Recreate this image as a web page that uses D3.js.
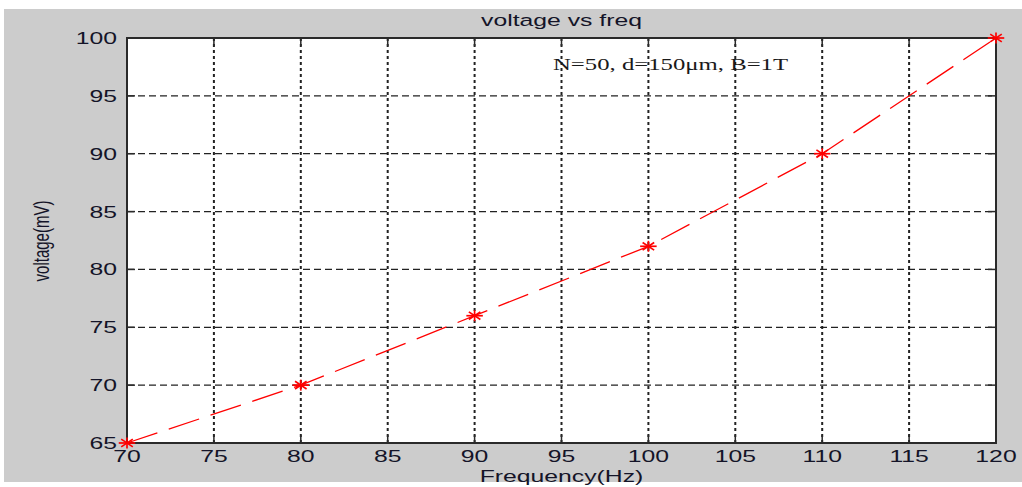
<!DOCTYPE html>
<html><head><meta charset="utf-8">
<script src="https://cdn.jsdelivr.net/npm/d3@7"></script>
<style>html,body{margin:0;padding:0;background:#fff;}svg{display:block;}</style>
</head><body>
<script>
const freq = [70, 80, 90, 100, 110, 120];
const voltage = [65, 70, 76, 82, 90, 100];
const xTicks = [70, 75, 80, 85, 90, 95, 100, 105, 110, 115, 120];
const yTicks = [65, 70, 75, 80, 85, 90, 95, 100];
const titleText = "voltage vs freq";
const xLabel = "Frequency(Hz)";
const yLabel = "voltage(mV)";
const noteText = "N=50, d=150\u03bcm, B=1T";

const W = 1022, H = 487, SX = 1.5;
const m = {left: 127, right: 996, top: 38, bottom: 443};
const svg = d3.select("body").append("svg").attr("width", W).attr("height", H);
svg.append("rect").attr("x", 4).attr("y", 9).attr("width", W - 4).attr("height", 473).attr("fill", "#cccccc");

const x = d3.scaleLinear().domain([70, 120]).range([m.left, m.right]);
const y = d3.scaleLinear().domain([65, 100]).range([m.bottom, m.top]);

svg.append("rect").attr("x", m.left).attr("y", m.top).attr("width", m.right - m.left)
  .attr("height", m.bottom - m.top).attr("fill", "#fff");

function stext(px, py, txt, o) {
  return svg.append("text")
    .attr("transform", `translate(${px},${py}) scale(${SX},1)` + (o.rot ? " rotate(-90)" : ""))
    .attr("text-anchor", o.anchor || "middle")
    .attr("font-family", o.family || "'Liberation Sans', Arial, sans-serif")
    .attr("font-size", o.size || 16)
    .attr("fill", o.fill || "#141428")
    .text(txt);
}

// grid
const grid = svg.append("g");
grid.selectAll(".hg").data(yTicks.filter(d => d > 65 && d < 100)).join("line")
  .attr("x1", m.left).attr("x2", m.right).attr("y1", d => y(d)).attr("y2", d => y(d))
  .attr("stroke", "#222").attr("stroke-width", 1.2).attr("stroke-dasharray", "7,4");
grid.selectAll(".vg").data(xTicks.filter(d => d > 70 && d < 120)).join("line")
  .attr("x1", d => x(d)).attr("x2", d => x(d)).attr("y1", m.top).attr("y2", m.bottom)
  .attr("stroke", "#222").attr("stroke-width", 2).attr("stroke-dasharray", "3,3");

// ticks (inward) on all four sides
const tk = 8;
const ticks = svg.append("g").attr("stroke", "#2a2a2a").attr("stroke-width", 1.5);
xTicks.forEach(d => {
  ticks.append("line").attr("x1", x(d)).attr("x2", x(d)).attr("y1", m.bottom).attr("y2", m.bottom - tk);
  ticks.append("line").attr("x1", x(d)).attr("x2", x(d)).attr("y1", m.top).attr("y2", m.top + tk);
});
yTicks.forEach(d => {
  ticks.append("line").attr("x1", m.left).attr("x2", m.left + tk).attr("y1", y(d)).attr("y2", y(d));
  ticks.append("line").attr("x1", m.right).attr("x2", m.right - tk).attr("y1", y(d)).attr("y2", y(d));
});

// box
svg.append("rect").attr("x", m.left).attr("y", m.top).attr("width", m.right - m.left)
  .attr("height", m.bottom - m.top).attr("fill", "none").attr("stroke", "#2a2a2a").attr("stroke-width", 2);

// tick labels
xTicks.forEach(d => stext(x(d), 462, d, {size: 16.5}));
yTicks.forEach(d => stext(117, y(d) + 6, d, {size: 16.5, anchor: "end"}));

// data line
const line = d3.line().x((d, i) => x(freq[i])).y(d => y(d));
svg.append("path").datum(voltage).attr("d", line).attr("fill", "none")
  .attr("stroke", "#ff0000").attr("stroke-width", 1.3).attr("stroke-dasharray", "32,12");

// asterisk markers (stretched horizontally like the rest)
const mk = svg.append("g").attr("stroke", "#ff0000").attr("stroke-width", 1.7);
voltage.forEach((v, i) => {
  const cx = x(freq[i]), cy = y(v), r = 5.5;
  [[0, 1], [1, 0], [0.7, 0.7], [0.7, -0.7]].forEach(([dx, dy]) => {
    mk.append("line").attr("x1", cx - dx * r * SX).attr("x2", cx + dx * r * SX)
      .attr("y1", cy - dy * r).attr("y2", cy + dy * r);
  });
});

// texts
stext((m.left + m.right) / 2, 26, titleText, {size: 16.5});
stext((m.left + m.right) / 2, 482, xLabel, {size: 16.5});
stext(49, 241, yLabel, {size: 15, rot: true});
stext(553, 70, noteText, {size: 16.5, anchor: "start", family: "'Liberation Serif', 'Times New Roman', serif", fill: "#1a1a1a"});
</script>
</body></html>
